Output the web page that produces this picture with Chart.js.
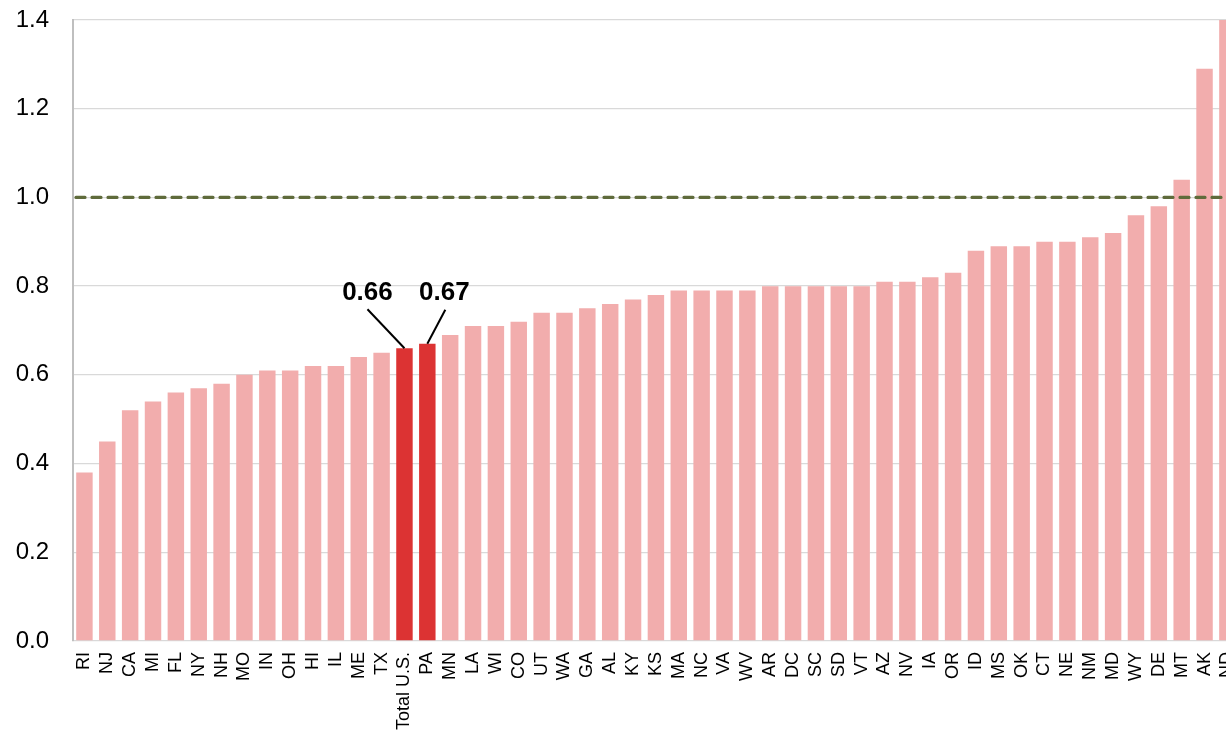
<!DOCTYPE html>
<html>
<head>
<meta charset="utf-8">
<script src="https://cdn.jsdelivr.net/npm/chart.js@4/dist/chart.umd.min.js"></script>
<style>
  html, body { margin: 0; padding: 0; background: #fff; overflow: hidden; }
  #wrap { position: absolute; left: 0; top: 0; width: 1260px; height: 735px; }
</style>
</head>
<body>
<div id="wrap"><canvas id="chart"></canvas></div>
<script>
// states sorted by ratio, with the national total among them
const states = ['RI','NJ','CA','MI','FL','NY','NH','MO','IN','OH','HI','IL','ME','TX','Total U.S.','PA',
  'MN','LA','WI','CO','UT','WA','GA','AL','KY','KS','MA','NC','VA','WV','AR','DC','SC','SD','VT',
  'AZ','NV','IA','OR','ID','MS','OK','CT','NE','NM','MD','WY','DE','MT','AK','ND'];
const ratios = [0.38,0.45,0.52,0.54,0.56,0.57,0.58,0.60,0.61,0.61,0.62,0.62,0.64,0.65,0.66,0.67,
  0.69,0.71,0.71,0.72,0.74,0.74,0.75,0.76,0.77,0.78,0.79,0.79,0.79,0.79,0.80,0.80,0.80,0.80,0.80,
  0.81,0.81,0.82,0.83,0.88,0.89,0.89,0.90,0.90,0.91,0.92,0.96,0.98,1.04,1.29,1.55];
const highlighted = ['Total U.S.', 'PA'];
const yTicks = [0, 0.2, 0.4, 0.6, 0.8, 1.0, 1.2, 1.4];
const referenceLevel = 1.0;

const LIGHT = '#f2adad';
const RED = '#dc3333';

const barColors = states.map(s => highlighted.includes(s) ? RED : LIGHT);

// dashed reference line across the plot
const refLine = {
    id: 'refLine',
    afterDatasetsDraw(chart) {
        const { ctx, chartArea, scales } = chart;
        const y = scales.y.getPixelForValue(referenceLevel);
        ctx.save();
        ctx.strokeStyle = '#5f6b3b';
        ctx.lineWidth = 3.2;
        ctx.lineCap = 'round';
        ctx.setLineDash([9, 7]);
        ctx.beginPath();
        ctx.moveTo(chartArea.left + 3, y);
        ctx.lineTo(chartArea.right, y);
        ctx.stroke();
        ctx.restore();
    }
};

// value callouts for the highlighted bars
const callouts = {
    id: 'callouts',
    afterDatasetsDraw(chart) {
        const { ctx } = chart;
        const meta = chart.getDatasetMeta(0);
        const offsets = { 'Total U.S.': { tx: -37, ty: -48, lx: -37, ly: -39 }, 'PA': { tx: 17, ty: -44, lx: 18, ly: -34 } };
        ctx.save();
        ctx.font = 'bold 26px "Liberation Sans", Arial, sans-serif';
        ctx.fillStyle = '#000';
        ctx.strokeStyle = '#000';
        ctx.lineWidth = 2;
        ctx.textAlign = 'center';
        ctx.textBaseline = 'alphabetic';
        highlighted.forEach(name => {
            const i = states.indexOf(name);
            const bar = meta.data[i];
            const o = offsets[name];
            ctx.beginPath();
            ctx.moveTo(bar.x + o.lx, bar.y + o.ly);
            ctx.lineTo(bar.x, bar.y);
            ctx.stroke();
            ctx.fillText(ratios[i].toFixed(2), bar.x + o.tx, bar.y + o.ty);
        });
        ctx.restore();
    }
};

new Chart(document.getElementById('chart'), {
    type: 'bar',
    data: {
        labels: states,
        datasets: [{
            data: ratios,
            backgroundColor: barColors,
            borderWidth: 0,
            barPercentage: 0.72,
            categoryPercentage: 1.0
        }]
    },
    options: {
        responsive: true,
        maintainAspectRatio: false,
        animation: false,
        layout: { padding: 0 },
        plugins: {
            legend: { display: false },
            tooltip: { enabled: false }
        },
        scales: {
            x: {
                grid: { display: false, drawTicks: false },
                border: { display: false },
                afterFit(scale) { scale.height = 94; },
                ticks: {
                    color: '#000',
                    font: { family: '"Liberation Sans", Arial, sans-serif', size: 18 },
                    autoSkip: false,
                    maxRotation: 90,
                    minRotation: 90,
                    padding: 11
                }
            },
            y: {
                min: 0,
                max: 1.4,
                afterBuildTicks(scale) { scale.ticks = yTicks.map(v => ({ value: v })); },
                afterFit(scale) { scale.width = 73; scale.paddingTop = 20; scale.paddingBottom = 0; },
                grid: { color: '#d9d9d9', lineWidth: 1.3, drawTicks: false },
                border: { color: '#bfbfbf', width: 2 },
                ticks: {
                    color: '#000',
                    font: { family: '"Liberation Sans", Arial, sans-serif', size: 24 },
                    padding: 24,
                    callback: v => Number(v).toFixed(1)
                }
            }
        }
    },
    plugins: [refLine, callouts]
});
</script>
</body>
</html>
